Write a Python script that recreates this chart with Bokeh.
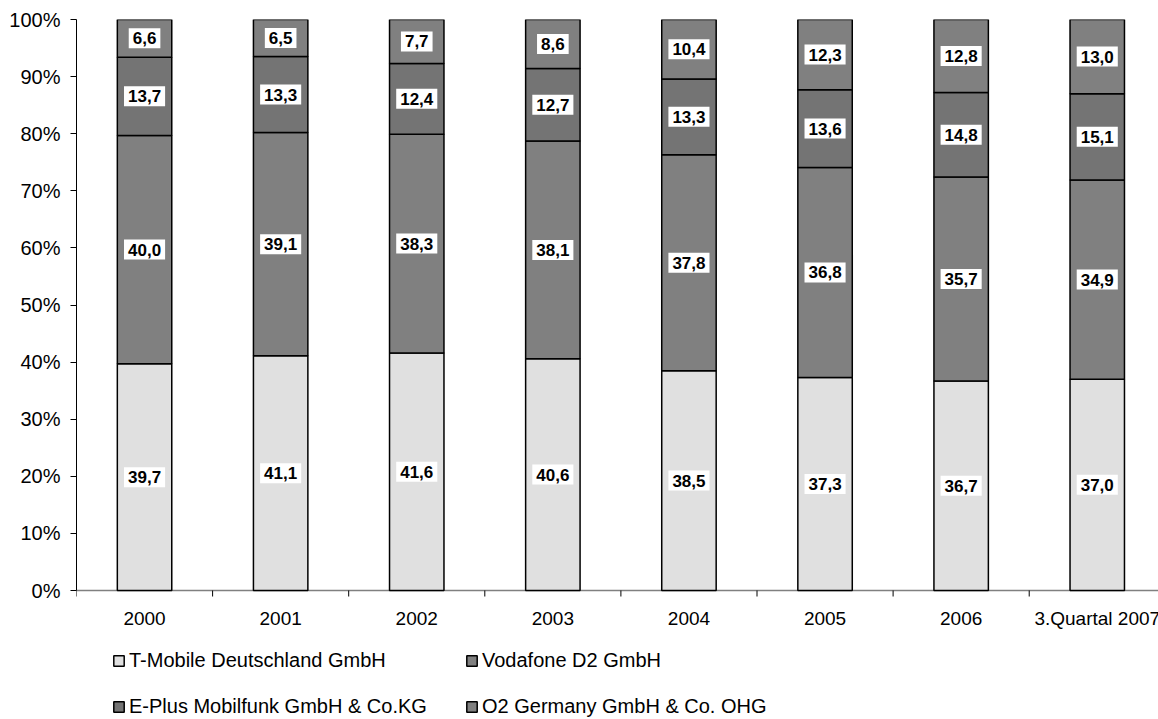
import numpy as np
from bokeh.plotting import figure
from bokeh.models import (Range1d, FixedTicker, ColumnDataSource, Legend, LegendItem,
                          PrintfTickFormatter, Span)
from bokeh.core.properties import value
from bokeh.embed import file_html
from bokeh.resources import INLINE

categories = ["2000", "2001", "2002", "2003", "2004", "2005", "2006", "3.Quartal 2007"]
series_names = ["T-Mobile Deutschland GmbH", "Vodafone D2 GmbH",
                "E-Plus Mobilfunk GmbH & Co.KG", "O2 Germany GmbH & Co. OHG"]
tmobile = [39.7, 41.1, 41.6, 40.6, 38.5, 37.3, 36.7, 37.0]
vodafone = [40.0, 39.1, 38.3, 38.1, 37.8, 36.8, 35.7, 34.9]
eplus = [13.7, 13.3, 12.4, 12.7, 13.3, 13.6, 14.8, 15.1]
o2 = [6.6, 6.5, 7.7, 8.6, 10.4, 12.3, 12.8, 13.0]
colors = ["#e0e0e0", "#808080", "#747474", "#808080"]
y_ticks = list(range(0, 101, 10))

FONT = "Liberation Sans"

# layout constants (pixels)
PLOT_H = 571          # height of 0..100 %
BELOW = 129           # space under the 0 line (axis labels + legend)
PPU = PLOT_H / 100.0  # pixels per percent

series = [tmobile, vodafone, eplus, o2]
keys = ["s0", "s1", "s2", "s3"]
n = len(categories)
x = np.arange(n)
data = {"x": x}
for k, s in zip(keys, series):
    data[k] = s
src = ColumnDataSource(data)

p = figure(width=1158, height=719, frame_width=1082, frame_height=PLOT_H + BELOW,
           output_backend="svg", toolbar_location=None,
           x_range=Range1d(-0.5, 7.45), y_range=Range1d(-BELOW / PPU, 100),
           min_border_left=76, min_border_right=0, min_border_top=19, min_border_bottom=0)
p.outline_line_color = None
p.xgrid.grid_line_color = None
p.ygrid.grid_line_color = None
p.background_fill_color = "white"
p.xaxis.visible = False

# category axis line at 0
p.add_layout(Span(location=0, dimension="width", line_color="#808080", line_width=1.5,
                  level="underlay"))

renderers = p.vbar_stack(keys, x="x", width=0.4, source=src, fill_color=colors,
                         line_color="black", line_width=1.5)

# category tick marks between categories
bounds = np.arange(n + 1) - 0.5
p.segment(x0=bounds, y0=np.zeros(n + 1), x1=bounds, y1=np.full(n + 1, -6 / PPU),
          line_color="black", line_width=1)

# category labels
p.text(x=x, y=np.full(n, -28 / PPU), text=categories, text_align="center",
       text_baseline="middle", text_font=value(FONT), text_font_size="19px",
       text_color="black")

# value labels
cum = np.zeros(n)
lx, ly, lt = [], [], []
for s in series:
    s = np.array(s)
    mid = cum + s / 2
    for i in range(n):
        lx.append(x[i]); ly.append(mid[i]); lt.append(f"{s[i]:.1f}".replace(".", ","))
    cum = cum + s
p.text(x=lx, y=ly, text=lt, text_align="center", text_baseline="middle",
       text_font=value(FONT), text_font_style="bold", text_font_size="17px",
       text_color="black", background_fill_color="white", padding=[4, 4])

# y axis
ya = p.yaxis[0]
ya.bounds = (0, 100)
ya.ticker = FixedTicker(ticks=y_ticks, minor_ticks=[])
ya.formatter = PrintfTickFormatter(format="%d%%")
ya.major_label_text_font = FONT
ya.major_label_text_font_size = "20px"
ya.major_label_text_color = "black"
ya.axis_line_color = "black"
ya.major_tick_line_color = "black"
ya.major_tick_out = 6
ya.major_tick_in = 0
ya.minor_tick_line_color = None
ya.major_label_standoff = 10

items = [LegendItem(label=nm, renderers=[r]) for nm, r in zip(series_names, renderers)]
legend = Legend(items=items, orientation="horizontal", ncols=2, location=(36, 1),
                label_text_font=FONT, label_text_font_size="20px", label_text_color="black",
                glyph_width=13, glyph_height=13, label_standoff=4, spacing=23,
                padding=0, margin=0, border_line_color=None, background_fill_color=None,
                label_height=20, label_width=313)
p.add_layout(legend, "center")

open("out.html", "w").write(file_html(p, INLINE))
